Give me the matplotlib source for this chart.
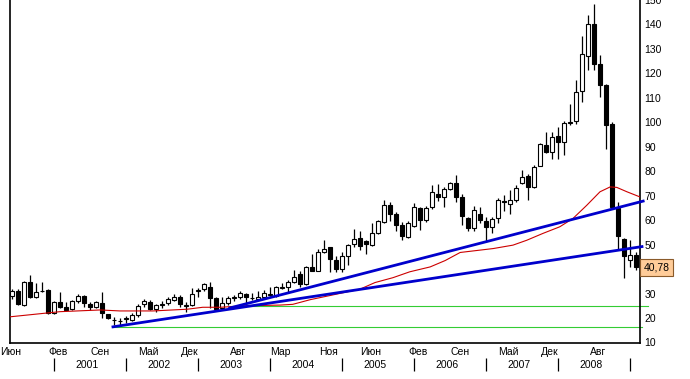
import numpy as np
import matplotlib.pyplot as plt

plt.rcParams.update({
    "font.family": ["Liberation Sans", "DejaVu Sans"],
    "font.size": 7.5,
})

# --- monthly candles, Jun 2000 .. Feb 2009 (month index 0 = Jan 2001) ---
months = np.arange(-7, 98)
opens = [29, 31, 25.3, 34.6, 28.4, 31.2, 31.4,
         21.9, 26.4, 24.6, 23.6, 27.1, 29.1, 25.7, 24.6, 26, 21.5, 19.3, 18.9,
         19.8, 19.2, 21.2, 25.6, 26.7, 23.6, 25.4, 26, 27.3, 28.7, 25.1, 25.3,
         31.2, 31.8, 32.8, 28, 24, 26.2, 28.2, 28.4, 29.7, 28.2, 27.6, 28.7,
         29.6, 29.1, 32.3, 32.5, 34.6, 37.8, 33.9, 41, 39.3, 47.1, 48.9, 43.7,
         40, 45.4, 50.1, 52.9, 51.4, 49.8, 54.8, 59.3, 66.4, 62.7, 58, 53.2,
         57.7, 64.8, 60, 65.4, 70.6, 69.3, 72.9, 75.2, 69.5, 60.7, 56.6, 62.7,
         59.7, 57.3, 60.7, 67.8, 66.8, 68.4, 75.2, 78, 73.6, 82.2, 90.6, 87.9,
         94.3, 92, 99.8, 100.6, 112.8, 127.3, 140.3, 123.7, 115.4, 99.4, 64.8, 52.5,
         43.7, 45.7]
highs = [31.7, 32, 35, 37.6, 34.2, 34.6, 31.8,
         27, 30.5, 26.4, 27.3, 29.8, 29.6, 26.4, 27, 30.5, 21.7, 20.5, 20,
         21, 22.2, 25.6, 27.6, 27.4, 25.7, 26.9, 28.4, 29.9, 29.5, 26.7, 32.4,
         32.4, 34.5, 34.6, 28.4, 28.4, 29, 29.3, 31.2, 30.3, 30.2, 31, 31.6,
         32.5, 33, 34.4, 35.5, 39.6, 39.2, 41.4, 46, 48.4, 52.1, 49.1, 45.5,
         47.1, 50.2, 56.2, 55.6, 51.8, 58.7, 60.2, 68.4, 67.5, 63.4, 59.4, 59.6,
         67.1, 65.2, 65.8, 74.3, 74.7, 73.6, 75.8, 78.4, 70.7, 61.4, 66, 65.2,
         61.3, 61.3, 68.9, 70.2, 72.2, 74.3, 80.4, 79, 82.6, 91.4, 96, 96,
         98.1, 100.5, 107.6, 117.4, 135.1, 143.7, 148.2, 127.6, 115.7, 100, 67.5, 52.7,
         51.8, 47]
lows = [27.9, 25.3, 25, 28.3, 28.2, 30.8, 21.5,
        21.5, 24, 22.9, 23.2, 26.2, 24.6, 23.2, 24.2, 19.9, 19.8, 17.1, 17.1,
        17.8, 18.8, 20.6, 24.6, 23.2, 22.6, 23.9, 25.2, 26.8, 24.5, 22.6, 24.9,
        28.7, 31, 24, 23.2, 23.4, 25.2, 26.8, 27.6, 25.3, 27.2, 27.2, 28,
        29, 28.7, 31.8, 30.7, 34.2, 32.5, 33.5, 39.2, 39.1, 46.4, 38.9, 38.9,
        38.9, 41.6, 49.1, 48, 46.1, 49.4, 54.2, 58.8, 59.5, 55.6, 52.1, 52.6,
        57.2, 55.9, 59.1, 64.5, 67.9, 65.4, 72.2, 67.5, 58, 55.6, 55.6, 58.9,
        51.1, 54.6, 58.7, 63.9, 62.7, 67.5, 74.6, 68.2, 73.2, 82, 87.6, 85.2,
        85.2, 86.5, 98.8, 99.2, 108.3, 121.2, 121.2, 110.3, 88.9, 64.5, 47.8, 36.2,
        40.9, 39.6]
closes = [31, 25.6, 34.6, 28.7, 30.6, 31.0, 21.9,
          26.4, 24.4, 23.3, 26.9, 29.1, 26, 24.4, 26.4, 21.9, 19.9, 19.2, 18.8,
          19.9, 21.2, 25.0, 26.9, 23.7, 25.3, 25.6, 27.6, 28.7, 25.6, 25.3, 29.7,
          31.4, 33.8, 28.3, 23.6, 26.2, 28, 28.4, 30.1, 28.4, 28.0, 28.7, 30.1,
          29.8, 32.5, 32.5, 34.8, 36.6, 33.8, 40.9, 39.3, 46.8, 48.4, 44, 40,
          45.4, 49.8, 52.5, 49.4, 50.2, 54.6, 59.6, 66.4, 62.7, 58.2, 53.5, 58.9,
          65.2, 60, 64.8, 71.6, 69.3, 72.9, 75, 69.5, 61.6, 56.6, 64.1, 60,
          57.3, 60.4, 68.2, 67.5, 68.4, 73.2, 77.7, 73.6, 81.8, 91, 87.9, 93.8,
          92, 99.7, 100.1, 112.4, 128, 140, 124, 115.4, 99.1, 65.4, 53.5, 45.3,
          45.7, 40.78]

# moving average (red)
ma_months = [-7.33, 1, 7.7, 11, 16.5, 22.2, 24.8, 27.7, 31.8, 37.7, 39.8, 42.7,
             46, 51, 53.5, 56.5, 59.3, 62.7, 65.2, 67.7, 73.2, 76.5, 78.8, 81.5,
             84.3, 86.5, 88.8, 91, 92.7, 93.8, 95.5, 97.67]
ma_values = [20.5, 22.6, 23.3, 22.9, 22.9, 23.6, 24.4, 24.4, 25.0, 25.3, 25.6, 27.5,
             29.2, 31.8, 34.5, 36.5, 38.9, 40.9, 43.5, 46.8, 48.4, 49.8, 51.8, 54.6,
             57.3, 60.7, 66.1, 71.6, 73.6, 73.4, 71.6, 69.5]

# trend lines (blue) and support levels (green)
trend_lower = ([9.83, 98.0], [16.4, 49.2])
trend_upper = ([29.3, 98.2], [24.1, 67.8])
support_upper = ([29.3, 99.0], [24.9, 24.9])
support_lower = ([9.83, 54, 54, 98.0], [16.4, 16.4, 16.2, 16.2])

price_ticks = [10, 20, 30, 50, 60, 70, 80, 90, 100, 110, 120, 130, 140, 150]
month_label_pos = [-7, 1, 8, 16, 23, 31, 38, 46, 53, 61, 68, 76, 83, 91]
month_labels = ["Июн", "Фев", "Сен", "Май", "Дек", "Авг", "Мар", "Ноя",
                "Июн", "Фев", "Сен", "Май", "Дек", "Авг"]
years = ["2001", "2002", "2003", "2004", "2005", "2006", "2007", "2008"]
last_price = "40,78"

fig = plt.figure(figsize=(6.9, 3.79), dpi=100)
ax = fig.add_axes([10 / 690, 36.5 / 379, 630 / 690, 342.5 / 379])

opens = np.array(opens)
closes = np.array(closes)
up = closes >= opens

# wicks
ax.vlines(months, lows, highs, color="black", linewidth=0.9, zorder=2)
# bodies
body_w = 0.78
bottoms = np.minimum(opens, closes)
heights = np.maximum(np.abs(closes - opens), 0.15)
ax.bar(months[up], heights[up], bottom=bottoms[up], width=body_w,
       facecolor="white", edgecolor="black", linewidth=0.8, zorder=3)
ax.bar(months[~up], heights[~up], bottom=bottoms[~up], width=body_w,
       facecolor="black", edgecolor="black", linewidth=0.8, zorder=3)

ax.plot(ma_months, ma_values, color="#cc0000", linewidth=0.8, zorder=4)
ax.plot(*trend_lower, color="#0000cc", linewidth=2.0, zorder=5, clip_on=False)
ax.plot(*trend_upper, color="#0000cc", linewidth=2.0, zorder=5, clip_on=False)
ax.plot(*support_upper, color="#33cc33", linewidth=0.8, zorder=1, clip_on=False)
ax.plot(*support_lower, color="#33cc33", linewidth=0.8, zorder=1, clip_on=False)

ax.set_xlim(-7.33, 97.67)
ax.set_ylim(10, 149.8)

# axes frame
ax.spines["top"].set_visible(False)
for s in ["left", "right", "bottom"]:
    ax.spines[s].set_linewidth(1.2)
ax.yaxis.tick_right()
ax.set_yticks(price_ticks)
ax.tick_params(axis="y", length=0, pad=3, labelsize=7.5)
ax.set_xticks([])

# bottom labels
tr = ax.get_xaxis_transform()
for pos, lab in zip(month_label_pos, month_labels):
    ax.text(pos - 0.3, -0.028, lab, transform=tr, ha="center", va="center",
            fontsize=7.5)
for i, yr in enumerate(years):
    ax.text(12 * i + 5.5, -0.066, yr, transform=tr, ha="center", va="center",
            fontsize=7.5)
ax.vlines(np.arange(0, 97, 12), -0.045, -0.083, transform=tr, color="black",
          linewidth=0.9, clip_on=False)

# last price box
ax.text(97.67 + 0.55, closes[-1], last_price, ha="left", va="center",
        fontsize=7.5, zorder=6, clip_on=False,
        bbox=dict(boxstyle="square,pad=0.33", facecolor="#ffcc99",
                  edgecolor="#8a5a2a", linewidth=0.8))

fig.savefig("out.png", dpi=100)
